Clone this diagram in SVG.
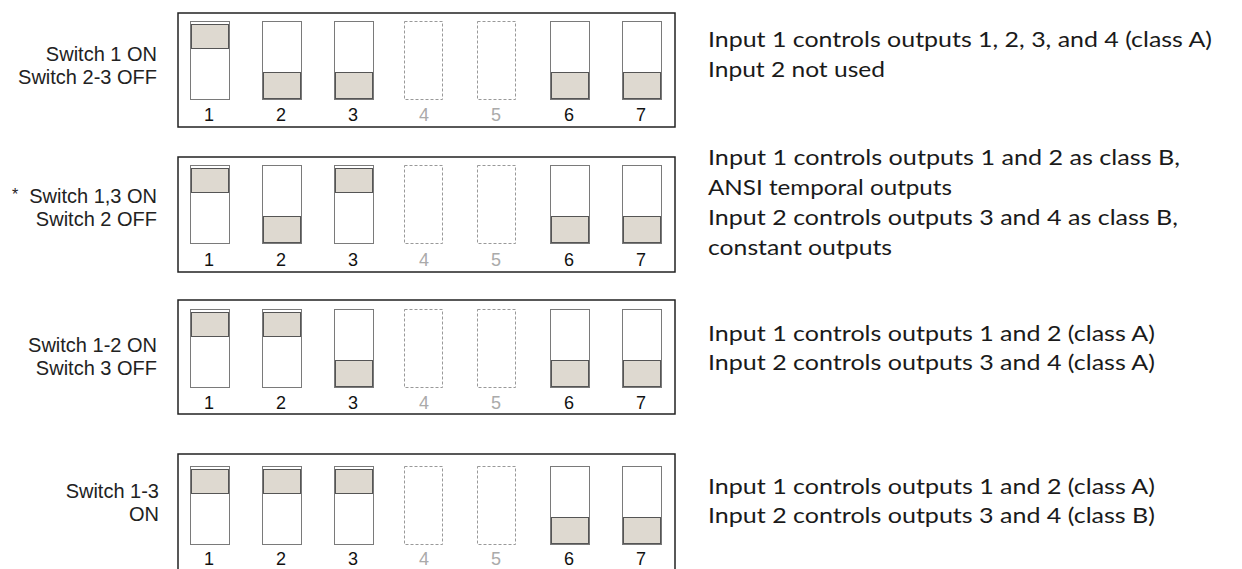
<svg xmlns="http://www.w3.org/2000/svg" width="1242" height="569" viewBox="0 0 1242 569">
<style>
.panel{fill:#fff;stroke:#222;stroke-width:1.5}
.sw{fill:#fff;stroke:#7a7a7a;stroke-width:1}
.shadow{fill:none;stroke:#c8c8c8;stroke-width:1}
.knob{fill:#ded9d0;stroke:#555;stroke-width:1}
.dash{fill:#fff;stroke:#999;stroke-width:1;stroke-dasharray:3 2}
.lbl{font-family:"Liberation Sans",Arial,sans-serif;font-size:20px;fill:#222;text-anchor:end}
.num{font-family:"Liberation Sans",Arial,sans-serif;font-size:18px;fill:#111;text-anchor:middle}
.numg{font-family:"Liberation Sans",Arial,sans-serif;font-size:18px;fill:#aaa;text-anchor:middle}
.desc{font-family:"Lato","Noto Sans",sans-serif;font-size:22px;fill:#1a1a1a}
</style>
<defs>
<g id="swOn">
<rect class="sw" x="0.5" y="0.5" width="39" height="78"/>
<rect class="knob" x="1.5" y="3.5" width="37" height="24"/>
</g>
<g id="swOff">
<rect class="sw" x="0.5" y="0.5" width="39" height="78"/>
<rect class="knob" x="1.5" y="51.5" width="37" height="26"/>
</g>
<g id="swNA">
<rect class="dash" x="0.5" y="0.5" width="38" height="78"/>
</g>
</defs>

<g id="panel1">
<rect class="panel" x="178" y="13" width="497" height="114"/>
<use href="#swOn" x="190" y="21"/>
<use href="#swOff" x="262" y="21"/>
<use href="#swOff" x="334" y="21"/>
<use href="#swNA" x="404" y="21"/>
<use href="#swNA" x="477" y="21"/>
<use href="#swOff" x="550" y="21"/>
<use href="#swOff" x="622" y="21"/>
<text class="num" x="209" y="121">1</text>
<text class="num" x="281" y="121">2</text>
<text class="num" x="353" y="121">3</text>
<text class="numg" x="424" y="121">4</text>
<text class="numg" x="496" y="121">5</text>
<text class="num" x="569" y="121">6</text>
<text class="num" x="641" y="121">7</text>
<text class="lbl" x="157" y="61">Switch 1 ON</text>
<text class="lbl" x="157" y="84">Switch 2-3 OFF</text>
<text class="desc" x="708" y="47" textLength="504" lengthAdjust="spacingAndGlyphs">Input 1 controls outputs 1, 2, 3, and 4 (class A)</text>
<text class="desc" x="708" y="77" textLength="177" lengthAdjust="spacingAndGlyphs">Input 2 not used</text>
</g>

<g id="panel2">
<rect class="panel" x="178" y="157" width="497" height="115"/>
<use href="#swOn" x="190" y="165"/>
<use href="#swOff" x="262" y="165"/>
<use href="#swOn" x="334" y="165"/>
<use href="#swNA" x="404" y="165"/>
<use href="#swNA" x="477" y="165"/>
<use href="#swOff" x="550" y="165"/>
<use href="#swOff" x="622" y="165"/>
<text class="num" x="209" y="266">1</text>
<text class="num" x="281" y="266">2</text>
<text class="num" x="353" y="266">3</text>
<text class="numg" x="424" y="266">4</text>
<text class="numg" x="496" y="266">5</text>
<text class="num" x="569" y="266">6</text>
<text class="num" x="641" y="266">7</text>
<text class="lbl" x="15" y="200" style="text-anchor:middle;font-size:16px">*</text>
<text class="lbl" x="157" y="203">Switch 1,3 ON</text>
<text class="lbl" x="157" y="226">Switch 2 OFF</text>
<text class="desc" x="708" y="165" textLength="472" lengthAdjust="spacingAndGlyphs">Input 1 controls outputs 1 and 2 as class B,</text>
<text class="desc" x="708" y="195" textLength="244" lengthAdjust="spacingAndGlyphs">ANSI temporal outputs</text>
<text class="desc" x="708" y="225" textLength="470" lengthAdjust="spacingAndGlyphs">Input 2 controls outputs 3 and 4 as class B,</text>
<text class="desc" x="708" y="255" textLength="184" lengthAdjust="spacingAndGlyphs">constant outputs</text>
</g>

<g id="panel3">
<rect class="panel" x="178" y="300" width="497" height="114"/>
<use href="#swOn" x="190" y="309"/>
<use href="#swOn" x="262" y="309"/>
<use href="#swOff" x="334" y="309"/>
<use href="#swNA" x="404" y="309"/>
<use href="#swNA" x="477" y="309"/>
<use href="#swOff" x="550" y="309"/>
<use href="#swOff" x="622" y="309"/>
<text class="num" x="209" y="409">1</text>
<text class="num" x="281" y="409">2</text>
<text class="num" x="353" y="409">3</text>
<text class="numg" x="424" y="409">4</text>
<text class="numg" x="496" y="409">5</text>
<text class="num" x="569" y="409">6</text>
<text class="num" x="641" y="409">7</text>
<text class="lbl" x="157" y="352">Switch 1-2 ON</text>
<text class="lbl" x="157" y="375">Switch 3 OFF</text>
<text class="desc" x="708" y="341" textLength="447" lengthAdjust="spacingAndGlyphs">Input 1 controls outputs 1 and 2 (class A)</text>
<text class="desc" x="708" y="370" textLength="447" lengthAdjust="spacingAndGlyphs">Input 2 controls outputs 3 and 4 (class A)</text>
</g>

<g id="panel4">
<rect class="panel" x="178" y="454" width="497" height="120"/>
<use href="#swOn" x="190" y="466"/>
<use href="#swOn" x="262" y="466"/>
<use href="#swOn" x="334" y="466"/>
<use href="#swNA" x="404" y="466"/>
<use href="#swNA" x="477" y="466"/>
<use href="#swOff" x="550" y="466"/>
<use href="#swOff" x="622" y="466"/>
<text class="num" x="209" y="565">1</text>
<text class="num" x="281" y="565">2</text>
<text class="num" x="353" y="565">3</text>
<text class="numg" x="424" y="565">4</text>
<text class="numg" x="496" y="565">5</text>
<text class="num" x="569" y="565">6</text>
<text class="num" x="641" y="565">7</text>
<text class="lbl" x="159" y="498">Switch 1-3</text>
<text class="lbl" x="159" y="521">ON</text>
<text class="desc" x="708" y="494" textLength="447" lengthAdjust="spacingAndGlyphs">Input 1 controls outputs 1 and 2 (class A)</text>
<text class="desc" x="708" y="523" textLength="447" lengthAdjust="spacingAndGlyphs">Input 2 controls outputs 3 and 4 (class B)</text>
</g>
</svg>
